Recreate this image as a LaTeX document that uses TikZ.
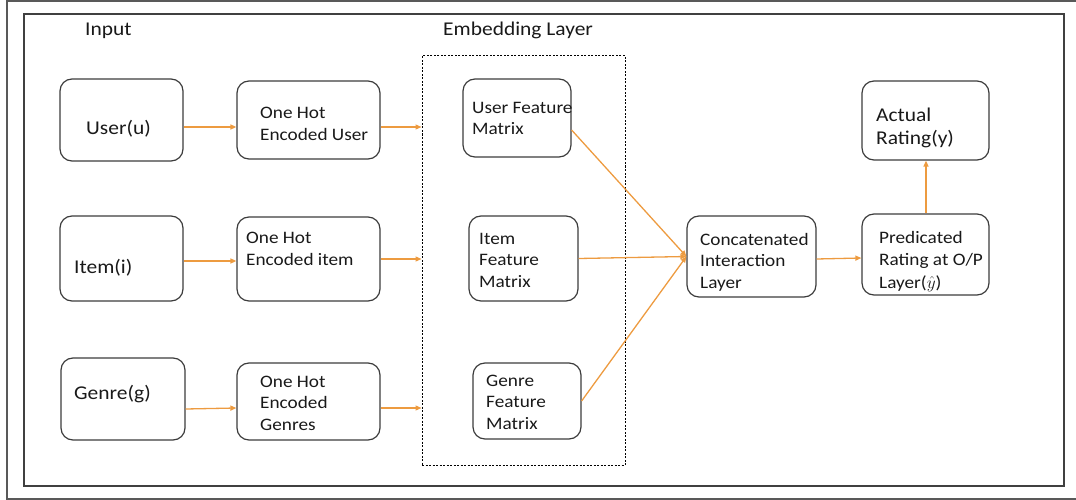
\documentclass[tikz,border=0pt]{standalone}
\usepackage{fontspec}
\setmainfont{Carlito}[FakeStretch=1.1]
\usetikzlibrary{arrows.meta}
\definecolor{arrc}{RGB}{237,155,64}
\definecolor{boxc}{RGB}{60,60,60}
\newcommand\bigf{\fontsize{19.5}{24}\selectfont}
\newcommand\regf{\fontsize{17.5}{21.5}\selectfont}
\tikzset{
  box/.style={draw=boxc, line width=1.2pt, rounded corners=12pt, inner sep=0pt},
  lbl/.style={anchor=base west, inner sep=0pt, align=left, font=\regf, text=black!90},
  biglbl/.style={lbl, font=\bigf},
  arr/.style={draw=arrc, line width=1.3pt, -{Triangle[length=6pt,width=5pt]}},
  frameline/.style={draw=black!65, line width=1.5pt}
}
\begin{document}
\begin{tikzpicture}[x=1pt,y=-1pt]
\useasboundingbox (0,0) rectangle (1076,500);
% frames
\begin{scope}
\clip (0,0) rectangle (1076,500);
\draw[frameline] (7,1) rectangle (1090,499);
\end{scope}
\draw[draw=black!75, line width=1.4pt] (24,14) rectangle (1064,486);
% headers
\node[biglbl] (hin) at (85,36) {Input};
\node[biglbl] (hemb) at (443,36) {Embedding Layer};
% embedding dashed box
\node[draw=black, line width=1pt, dash pattern=on 2pt off 1.5pt, minimum width=203pt, minimum height=409pt, inner sep=0pt] (emb) at (523.5,260.5) {};
% boxes
\node[box, minimum width=123pt, minimum height=82pt] (u) at (121.5,120) {};
\node[box, minimum width=143pt, minimum height=78pt] (ohu) at (308.5,120) {};
\node[box, minimum width=108pt, minimum height=78pt] (ufm) at (517,118) {};
\node[box, minimum width=123pt, minimum height=85pt] (i) at (121.5,258.5) {};
\node[box, minimum width=143pt, minimum height=84pt] (ohi) at (308.5,259) {};
\node[box, minimum width=109pt, minimum height=85pt] (ifm) at (523.5,258.5) {};
\node[box, minimum width=124pt, minimum height=82pt] (g) at (123,399) {};
\node[box, minimum width=143pt, minimum height=77pt] (ohg) at (308.5,401.5) {};
\node[box, minimum width=108pt, minimum height=76pt] (gfm) at (527,401) {};
\node[box, minimum width=129pt, minimum height=81pt] (c) at (751.5,256.5) {};
\node[box, minimum width=127pt, minimum height=81pt] (p) at (925.5,254.5) {};
\node[box, minimum width=127pt, minimum height=79pt] (a) at (925.5,120.5) {};
% labels (base = baseline of last line)
\node[biglbl] (tu) at (86,135) {User(u)};
\node[lbl] (tohu) at (260,140) {One Hot\\Encoded User};
\node[lbl] (tufm) at (472,135) {User Feature\\Matrix};
\node[biglbl] (ti) at (74,273) {Item(i)};
\node[lbl] (tohi) at (246,265) {One Hot\\Encoded item};
\node[lbl] (tifm) at (479,287) {Item\\Feature\\Matrix};
\node[biglbl] (tg) at (74,399) {Genre(g)};
\node[lbl] (tohg) at (260,430) {One Hot\\Encoded\\Genres};
\node[lbl] (tgfm) at (486,429) {Genre\\Feature\\Matrix};
\node[lbl] (tc) at (700,288) {Concatenated\\Interaction\\Layer};
\node[lbl] (tp) at (879,288) {Predicated\\Rating at O/P\\[1.5pt]Layer($\hat{y}$)};
\node[biglbl] (ta) at (876,145) {Actual\\Rating(y)};
% arrows
\draw[arr] (u.east |- 0,127) -- (ohu.west |- 0,127);
\draw[arr] (ohu.east |- 0,127) -- (emb.west |- 0,127);
\draw[arr] (i.east |- 0,261) -- (ohi.west |- 0,261);
\draw[arr] (ohi.east |- 0,259) -- (emb.west |- 0,259);
\draw[arr] (g.east |- 0,409) -- (ohg.west |- 0,408);
\draw[arr] (ohg.east |- 0,408) -- (emb.west |- 0,408);
\draw[arr] ([yshift=-12pt]ufm.east) -- (c.west);
\draw[arr] (ifm.east) -- (c.west);
\draw[arr] (gfm.east) -- (c.west);
\draw[arr] (c.east |- 0,259) -- (p.west |- 0,258);
\draw[arr] ([xshift=0.5pt]p.north) -- ([xshift=0.5pt]a.south);
\end{tikzpicture}
\end{document}
